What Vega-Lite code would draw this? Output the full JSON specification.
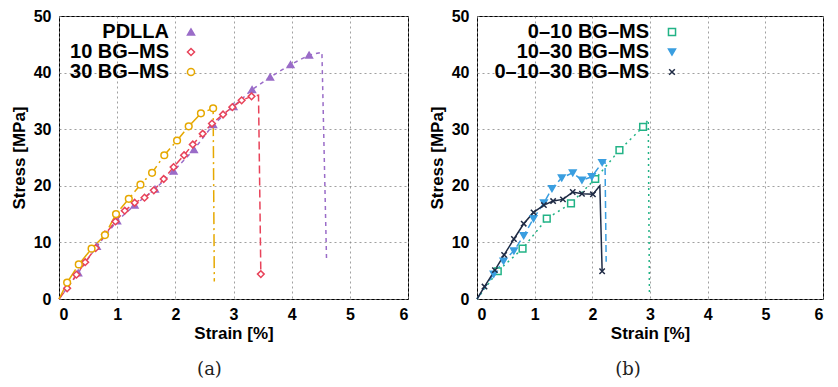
{
  "$schema": "https://vega.github.io/schema/vega-lite/v6.json",
  "padding": {"left": 9, "top": 7, "right": 0, "bottom": 0},
  "spacing": 18,
  "datasets": {
    "a_lines": [
      {"series": "PDLLA", "strain": 0, "stress": 0},
      {"series": "PDLLA", "strain": 0.33, "stress": 4.6},
      {"series": "PDLLA", "strain": 0.65, "stress": 9.3},
      {"series": "PDLLA", "strain": 1.0, "stress": 13.8},
      {"series": "PDLLA", "strain": 1.3, "stress": 16.6},
      {"series": "PDLLA", "strain": 1.65, "stress": 19.4},
      {"series": "PDLLA", "strain": 1.97, "stress": 22.6},
      {"series": "PDLLA", "strain": 2.32, "stress": 26.4},
      {"series": "PDLLA", "strain": 2.65, "stress": 30.8},
      {"series": "PDLLA", "strain": 3.0, "stress": 34.0},
      {"series": "PDLLA", "strain": 3.32, "stress": 37.0},
      {"series": "PDLLA", "strain": 3.63, "stress": 39.2},
      {"series": "PDLLA", "strain": 3.98, "stress": 41.4},
      {"series": "PDLLA", "strain": 4.3, "stress": 43.1},
      {"series": "PDLLA", "strain": 4.52, "stress": 43.6},
      {"series": "PDLLA", "strain": 4.6, "stress": 6.7},
      {"series": "10 BG–MS", "strain": 0, "stress": 0},
      {"series": "10 BG–MS", "strain": 0.14, "stress": 1.9},
      {"series": "10 BG–MS", "strain": 0.3, "stress": 4.3},
      {"series": "10 BG–MS", "strain": 0.45, "stress": 6.5},
      {"series": "10 BG–MS", "strain": 0.63, "stress": 9.0},
      {"series": "10 BG–MS", "strain": 0.79, "stress": 11.4},
      {"series": "10 BG–MS", "strain": 0.97, "stress": 13.7},
      {"series": "10 BG–MS", "strain": 1.13, "stress": 15.6},
      {"series": "10 BG–MS", "strain": 1.3, "stress": 17.0},
      {"series": "10 BG–MS", "strain": 1.47, "stress": 17.9},
      {"series": "10 BG–MS", "strain": 1.63, "stress": 19.2},
      {"series": "10 BG–MS", "strain": 1.8, "stress": 21.2},
      {"series": "10 BG–MS", "strain": 1.97, "stress": 23.3},
      {"series": "10 BG–MS", "strain": 2.15, "stress": 25.4},
      {"series": "10 BG–MS", "strain": 2.3, "stress": 27.3},
      {"series": "10 BG–MS", "strain": 2.47, "stress": 29.2},
      {"series": "10 BG–MS", "strain": 2.63, "stress": 31.0},
      {"series": "10 BG–MS", "strain": 2.82, "stress": 32.6},
      {"series": "10 BG–MS", "strain": 2.98, "stress": 33.9},
      {"series": "10 BG–MS", "strain": 3.14, "stress": 35.1},
      {"series": "10 BG–MS", "strain": 3.31, "stress": 35.8},
      {"series": "10 BG–MS", "strain": 3.43, "stress": 36.0},
      {"series": "10 BG–MS", "strain": 3.47, "stress": 4.4},
      {"series": "30 BG–MS", "strain": 0, "stress": 0},
      {"series": "30 BG–MS", "strain": 0.14, "stress": 2.9},
      {"series": "30 BG–MS", "strain": 0.34, "stress": 6.1},
      {"series": "30 BG–MS", "strain": 0.56, "stress": 8.9},
      {"series": "30 BG–MS", "strain": 0.79, "stress": 11.3},
      {"series": "30 BG–MS", "strain": 0.98, "stress": 15.0},
      {"series": "30 BG–MS", "strain": 1.2, "stress": 17.7},
      {"series": "30 BG–MS", "strain": 1.4, "stress": 20.2},
      {"series": "30 BG–MS", "strain": 1.6, "stress": 22.3},
      {"series": "30 BG–MS", "strain": 1.81, "stress": 25.4},
      {"series": "30 BG–MS", "strain": 2.03, "stress": 28.0},
      {"series": "30 BG–MS", "strain": 2.23, "stress": 30.5},
      {"series": "30 BG–MS", "strain": 2.44, "stress": 32.8},
      {"series": "30 BG–MS", "strain": 2.65, "stress": 33.7},
      {"series": "30 BG–MS", "strain": 2.67, "stress": 3.1}
    ],
    "a_marks": [
      {"series": "PDLLA", "strain": 0.33, "stress": 4.6},
      {"series": "PDLLA", "strain": 0.65, "stress": 9.3},
      {"series": "PDLLA", "strain": 1.0, "stress": 13.8},
      {"series": "PDLLA", "strain": 1.3, "stress": 16.6},
      {"series": "PDLLA", "strain": 1.65, "stress": 19.4},
      {"series": "PDLLA", "strain": 1.97, "stress": 22.6},
      {"series": "PDLLA", "strain": 2.32, "stress": 26.4},
      {"series": "PDLLA", "strain": 2.65, "stress": 30.8},
      {"series": "PDLLA", "strain": 3.0, "stress": 34.0},
      {"series": "PDLLA", "strain": 3.32, "stress": 37.0},
      {"series": "PDLLA", "strain": 3.63, "stress": 39.2},
      {"series": "PDLLA", "strain": 3.98, "stress": 41.4},
      {"series": "PDLLA", "strain": 4.3, "stress": 43.1},
      {"series": "10 BG–MS", "strain": 0.14, "stress": 1.9},
      {"series": "10 BG–MS", "strain": 0.3, "stress": 4.3},
      {"series": "10 BG–MS", "strain": 0.45, "stress": 6.5},
      {"series": "10 BG–MS", "strain": 0.63, "stress": 9.0},
      {"series": "10 BG–MS", "strain": 0.79, "stress": 11.4},
      {"series": "10 BG–MS", "strain": 0.97, "stress": 13.7},
      {"series": "10 BG–MS", "strain": 1.13, "stress": 15.6},
      {"series": "10 BG–MS", "strain": 1.3, "stress": 17.0},
      {"series": "10 BG–MS", "strain": 1.47, "stress": 17.9},
      {"series": "10 BG–MS", "strain": 1.63, "stress": 19.2},
      {"series": "10 BG–MS", "strain": 1.8, "stress": 21.2},
      {"series": "10 BG–MS", "strain": 1.97, "stress": 23.3},
      {"series": "10 BG–MS", "strain": 2.15, "stress": 25.4},
      {"series": "10 BG–MS", "strain": 2.3, "stress": 27.3},
      {"series": "10 BG–MS", "strain": 2.47, "stress": 29.2},
      {"series": "10 BG–MS", "strain": 2.63, "stress": 31.0},
      {"series": "10 BG–MS", "strain": 2.82, "stress": 32.6},
      {"series": "10 BG–MS", "strain": 2.98, "stress": 33.9},
      {"series": "10 BG–MS", "strain": 3.14, "stress": 35.1},
      {"series": "10 BG–MS", "strain": 3.31, "stress": 35.8},
      {"series": "10 BG–MS", "strain": 3.47, "stress": 4.4},
      {"series": "30 BG–MS", "strain": 0.14, "stress": 2.9},
      {"series": "30 BG–MS", "strain": 0.34, "stress": 6.1},
      {"series": "30 BG–MS", "strain": 0.56, "stress": 8.9},
      {"series": "30 BG–MS", "strain": 0.79, "stress": 11.3},
      {"series": "30 BG–MS", "strain": 0.98, "stress": 15.0},
      {"series": "30 BG–MS", "strain": 1.2, "stress": 17.7},
      {"series": "30 BG–MS", "strain": 1.4, "stress": 20.2},
      {"series": "30 BG–MS", "strain": 1.6, "stress": 22.3},
      {"series": "30 BG–MS", "strain": 1.81, "stress": 25.4},
      {"series": "30 BG–MS", "strain": 2.03, "stress": 28.0},
      {"series": "30 BG–MS", "strain": 2.23, "stress": 30.5},
      {"series": "30 BG–MS", "strain": 2.44, "stress": 32.8},
      {"series": "30 BG–MS", "strain": 2.65, "stress": 33.7}
    ],
    "b_lines": [
      {"series": "0–10 BG–MS", "strain": 0, "stress": 0},
      {"series": "0–10 BG–MS", "strain": 0.36, "stress": 4.9},
      {"series": "0–10 BG–MS", "strain": 0.79, "stress": 8.9},
      {"series": "0–10 BG–MS", "strain": 1.21, "stress": 14.2},
      {"series": "0–10 BG–MS", "strain": 1.63, "stress": 16.9},
      {"series": "0–10 BG–MS", "strain": 2.05, "stress": 21.2},
      {"series": "0–10 BG–MS", "strain": 2.47, "stress": 26.3},
      {"series": "0–10 BG–MS", "strain": 2.88, "stress": 30.4},
      {"series": "0–10 BG–MS", "strain": 2.97, "stress": 31.7},
      {"series": "0–10 BG–MS", "strain": 2.99, "stress": 0.8},
      {"series": "10–30 BG–MS", "strain": 0, "stress": 0},
      {"series": "10–30 BG–MS", "strain": 0.29, "stress": 4.4},
      {"series": "10–30 BG–MS", "strain": 0.46, "stress": 6.7},
      {"series": "10–30 BG–MS", "strain": 0.64, "stress": 8.5},
      {"series": "10–30 BG–MS", "strain": 0.81, "stress": 11.2},
      {"series": "10–30 BG–MS", "strain": 0.98, "stress": 14.2},
      {"series": "10–30 BG–MS", "strain": 1.16, "stress": 17.0},
      {"series": "10–30 BG–MS", "strain": 1.3, "stress": 19.5},
      {"series": "10–30 BG–MS", "strain": 1.47, "stress": 21.4},
      {"series": "10–30 BG–MS", "strain": 1.66, "stress": 22.3},
      {"series": "10–30 BG–MS", "strain": 1.82, "stress": 21.0},
      {"series": "10–30 BG–MS", "strain": 1.99, "stress": 21.6},
      {"series": "10–30 BG–MS", "strain": 2.17, "stress": 24.1},
      {"series": "10–30 BG–MS", "strain": 2.22, "stress": 24.2},
      {"series": "10–30 BG–MS", "strain": 2.24, "stress": 6.6},
      {"series": "0–10–30 BG–MS", "strain": 0, "stress": 0},
      {"series": "0–10–30 BG–MS", "strain": 0.13, "stress": 2.2},
      {"series": "0–10–30 BG–MS", "strain": 0.31, "stress": 5.1},
      {"series": "0–10–30 BG–MS", "strain": 0.47, "stress": 7.8},
      {"series": "0–10–30 BG–MS", "strain": 0.64, "stress": 10.6},
      {"series": "0–10–30 BG–MS", "strain": 0.81, "stress": 13.3},
      {"series": "0–10–30 BG–MS", "strain": 0.98, "stress": 15.3},
      {"series": "0–10–30 BG–MS", "strain": 1.16, "stress": 16.6},
      {"series": "0–10–30 BG–MS", "strain": 1.32, "stress": 17.3},
      {"series": "0–10–30 BG–MS", "strain": 1.49, "stress": 17.6},
      {"series": "0–10–30 BG–MS", "strain": 1.66, "stress": 18.9},
      {"series": "0–10–30 BG–MS", "strain": 1.82, "stress": 18.6},
      {"series": "0–10–30 BG–MS", "strain": 2.01, "stress": 18.5},
      {"series": "0–10–30 BG–MS", "strain": 2.13, "stress": 20.0},
      {"series": "0–10–30 BG–MS", "strain": 2.17, "stress": 4.9}
    ],
    "b_marks": [
      {"series": "0–10 BG–MS", "strain": 0.36, "stress": 4.9},
      {"series": "0–10 BG–MS", "strain": 0.79, "stress": 8.9},
      {"series": "0–10 BG–MS", "strain": 1.21, "stress": 14.2},
      {"series": "0–10 BG–MS", "strain": 1.63, "stress": 16.9},
      {"series": "0–10 BG–MS", "strain": 2.05, "stress": 21.2},
      {"series": "0–10 BG–MS", "strain": 2.47, "stress": 26.3},
      {"series": "0–10 BG–MS", "strain": 2.88, "stress": 30.4},
      {"series": "10–30 BG–MS", "strain": 0.29, "stress": 4.4},
      {"series": "10–30 BG–MS", "strain": 0.46, "stress": 6.7},
      {"series": "10–30 BG–MS", "strain": 0.64, "stress": 8.5},
      {"series": "10–30 BG–MS", "strain": 0.81, "stress": 11.2},
      {"series": "10–30 BG–MS", "strain": 0.98, "stress": 14.2},
      {"series": "10–30 BG–MS", "strain": 1.16, "stress": 17.0},
      {"series": "10–30 BG–MS", "strain": 1.3, "stress": 19.5},
      {"series": "10–30 BG–MS", "strain": 1.47, "stress": 21.4},
      {"series": "10–30 BG–MS", "strain": 1.66, "stress": 22.3},
      {"series": "10–30 BG–MS", "strain": 1.82, "stress": 21.0},
      {"series": "10–30 BG–MS", "strain": 1.99, "stress": 21.6},
      {"series": "10–30 BG–MS", "strain": 2.17, "stress": 24.1},
      {"series": "0–10–30 BG–MS", "strain": 0.13, "stress": 2.2},
      {"series": "0–10–30 BG–MS", "strain": 0.31, "stress": 5.1},
      {"series": "0–10–30 BG–MS", "strain": 0.47, "stress": 7.8},
      {"series": "0–10–30 BG–MS", "strain": 0.64, "stress": 10.6},
      {"series": "0–10–30 BG–MS", "strain": 0.81, "stress": 13.3},
      {"series": "0–10–30 BG–MS", "strain": 0.98, "stress": 15.3},
      {"series": "0–10–30 BG–MS", "strain": 1.16, "stress": 16.6},
      {"series": "0–10–30 BG–MS", "strain": 1.32, "stress": 17.3},
      {"series": "0–10–30 BG–MS", "strain": 1.49, "stress": 17.6},
      {"series": "0–10–30 BG–MS", "strain": 1.66, "stress": 18.9},
      {"series": "0–10–30 BG–MS", "strain": 1.82, "stress": 18.6},
      {"series": "0–10–30 BG–MS", "strain": 2.01, "stress": 18.5},
      {"series": "0–10–30 BG–MS", "strain": 2.17, "stress": 4.9}
    ]
  },
  "hconcat": [
    {
      "width": 349,
      "height": 283,
      "title": {"text": "(a)", "orient": "bottom", "dx": -24, "offset": 20},
      "encoding": {
        "x": {"field": "strain", "type": "quantitative", "scale": {"domain": [0, 6]}, "axis": {"values": [0, 1, 2, 3, 4, 5, 6], "format": "d", "title": "Strain [%]"}},
        "y": {"field": "stress", "type": "quantitative", "scale": {"domain": [0, 50]}, "axis": {"values": [0, 10, 20, 30, 40, 50], "format": "d", "title": "Stress [MPa]"}},
        "color": {"field": "series", "type": "nominal", "scale": {"domain": ["PDLLA", "10 BG–MS", "30 BG–MS"], "range": ["#9a6cc8", "#e8435a", "#e6a800"]}, "legend": {"title": null, "orient": "none", "legendX": 122, "legendY": 6, "labelAlign": "right", "labelOffset": -32}}
      },
      "layer": [
        {
          "data": {"name": "a_lines"},
          "transform": [{"filter": "datum.series === 'PDLLA'"}],
          "mark": {"type": "line", "strokeWidth": 1.5, "strokeDash": [4, 4]}
        },
        {
          "data": {"name": "a_lines"},
          "transform": [{"filter": "datum.series === '10 BG–MS'"}],
          "mark": {"type": "line", "strokeWidth": 1.5, "strokeDash": [8, 4]}
        },
        {
          "data": {"name": "a_lines"},
          "transform": [{"filter": "datum.series === '30 BG–MS'"}],
          "mark": {"type": "line", "strokeWidth": 1.5, "strokeDash": [12, 4, 2, 4]}
        },
        {
          "data": {"name": "a_marks"},
          "mark": {"type": "point", "strokeWidth": 1.5, "size": 45, "opacity": 1},
          "encoding": {
            "shape": {"field": "series", "type": "nominal", "scale": {"domain": ["PDLLA", "10 BG–MS", "30 BG–MS"], "range": ["triangle-up", "diamond", "circle"]}, "legend": {"title": null, "orient": "none", "legendX": 122, "legendY": 6, "labelAlign": "right", "labelOffset": -32}},
            "fill": {"field": "series", "type": "nominal", "scale": {"domain": ["PDLLA", "10 BG–MS", "30 BG–MS"], "range": ["#9a6cc8", "white", "white"]}, "legend": null}
          }
        }
      ]
    },
    {
      "width": 346,
      "height": 283,
      "title": {"text": "(b)", "orient": "bottom", "dx": -22, "offset": 20},
      "encoding": {
        "x": {"field": "strain", "type": "quantitative", "scale": {"domain": [0, 6]}, "axis": {"values": [0, 1, 2, 3, 4, 5, 6], "format": "d", "title": "Strain [%]"}},
        "y": {"field": "stress", "type": "quantitative", "scale": {"domain": [0, 50]}, "axis": {"values": [0, 10, 20, 30, 40, 50], "format": "d", "title": "Stress [MPa]"}},
        "color": {"field": "series", "type": "nominal", "scale": {"domain": ["0–10 BG–MS", "10–30 BG–MS", "0–10–30 BG–MS"], "range": ["#22b386", "#3a9ee0", "#1f2b45"]}, "legend": {"title": null, "orient": "none", "legendX": 185, "legendY": 6, "labelAlign": "right", "labelOffset": -33}}
      },
      "layer": [
        {
          "data": {"name": "b_lines"},
          "transform": [{"filter": "datum.series === '0–10 BG–MS'"}],
          "mark": {"type": "line", "strokeWidth": 1.5, "strokeDash": [2, 4]}
        },
        {
          "data": {"name": "b_lines"},
          "transform": [{"filter": "datum.series === '10–30 BG–MS'"}],
          "mark": {"type": "line", "strokeWidth": 1.5, "strokeDash": [7, 4]}
        },
        {
          "data": {"name": "b_lines"},
          "transform": [{"filter": "datum.series === '0–10–30 BG–MS'"}],
          "mark": {"type": "line", "strokeWidth": 1.5}
        },
        {
          "data": {"name": "b_marks"},
          "mark": {"type": "point", "strokeWidth": 1.5, "size": 45, "opacity": 1},
          "encoding": {
            "shape": {"field": "series", "type": "nominal", "scale": {"domain": ["0–10 BG–MS", "10–30 BG–MS", "0–10–30 BG–MS"], "range": ["square", "triangle-down", "M-0.8,-0.8L0.8,0.8M-0.8,0.8L0.8,-0.8"]}, "legend": {"title": null, "orient": "none", "legendX": 185, "legendY": 6, "labelAlign": "right", "labelOffset": -33}},
            "fill": {"field": "series", "type": "nominal", "scale": {"domain": ["0–10 BG–MS", "10–30 BG–MS", "0–10–30 BG–MS"], "range": ["white", "#3a9ee0", "transparent"]}, "legend": null}
          }
        }
      ]
    }
  ],
  "resolve": {
    "scale": {"color": "independent", "shape": "independent", "fill": "independent"},
    "legend": {"color": "independent", "shape": "independent"}
  },
  "config": {
    "font": "Liberation Sans",
    "view": {"stroke": "black", "strokeWidth": 1},
    "axis": {
      "labelFont": "Liberation Sans", "labelFontWeight": "bold", "labelFontSize": 16, "labelColor": "black",
      "titleFont": "Liberation Sans", "titleFontWeight": "bold", "titleFontSize": 17, "titleColor": "black",
      "grid": true, "gridColor": "#888", "gridDash": [2, 3], "gridOpacity": 0.8,
      "domain": false, "ticks": false
    },
    "axisX": {"labelPadding": 7, "titlePadding": 3},
    "axisY": {"labelPadding": 8, "titlePadding": 5},
    "legend": {
      "labelFont": "Liberation Sans", "labelFontWeight": "bold", "labelFontSize": 20, "labelColor": "black",
      "symbolSize": 50, "symbolStrokeWidth": 1.5, "rowPadding": 0, "padding": 0
    },
    "title": {"font": "DejaVu Serif", "fontSize": 18, "fontWeight": "normal", "color": "#222"}
  }
}
